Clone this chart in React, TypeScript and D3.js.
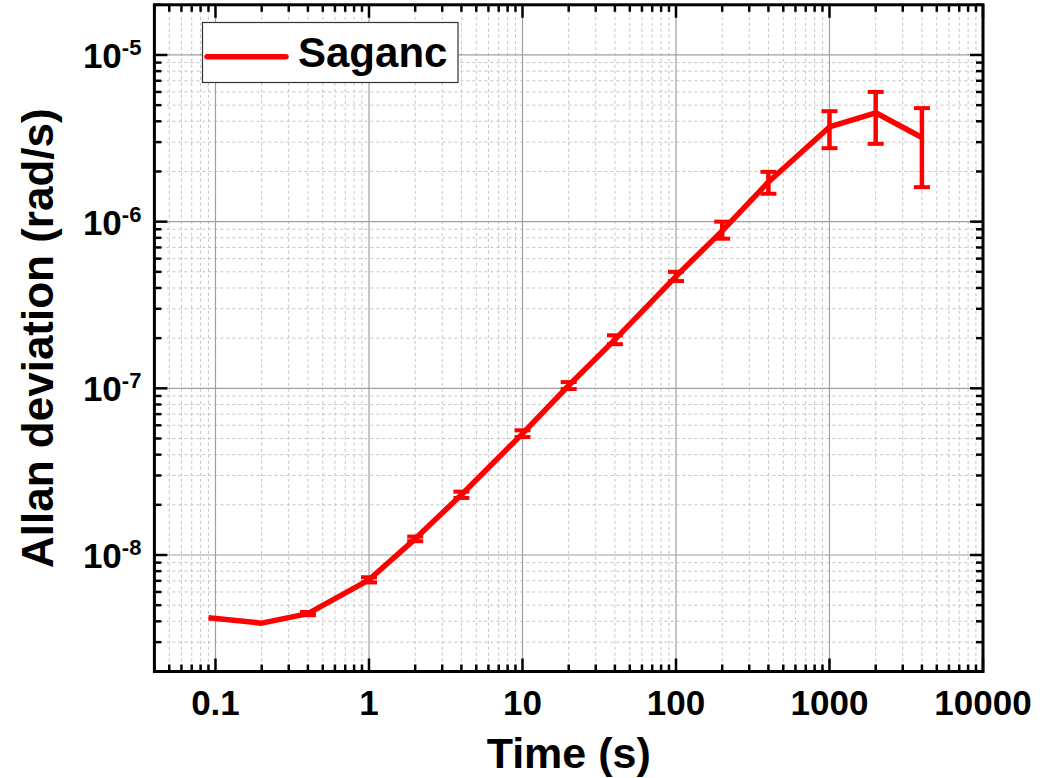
import React from "react";
import * as d3 from "d3";

// ---- data ----
const tau: number[] = [0.09, 0.2, 0.4, 1, 2, 4, 10, 20, 40, 100, 200, 400, 1000, 2000, 4000];
const adev: number[] = [4.2e-9, 3.9e-9, 4.45e-9, 7.1e-9, 1.25e-8, 2.3e-8, 5.35e-8, 1.04e-7, 1.96e-7, 4.7e-7, 8.8e-7, 1.73e-6, 3.7e-6, 4.5e-6, 3.2e-6];
const errUpper: number[] = [4.2e-9, 3.9e-9, 4.55e-9, 7.35e-9, 1.29e-8, 2.4e-8, 5.6e-8, 1.09e-7, 2.08e-7, 5.0e-7, 1.0e-6, 1.99e-6, 4.6e-6, 6.0e-6, 4.8e-6];
const errLower: number[] = [4.2e-9, 3.9e-9, 4.35e-9, 6.85e-9, 1.21e-8, 2.2e-8, 5.1e-8, 0.99e-7, 1.84e-7, 4.4e-7, 7.9e-7, 1.47e-6, 2.76e-6, 2.93e-6, 1.61e-6];
const xTickValues: number[] = [0.1, 1, 10, 100, 1000, 10000];
const xTickLabels: string[] = ["0.1", "1", "10", "100", "1000", "10000"];
const yTickValues: number[] = [1e-8, 1e-7, 1e-6, 1e-5];
const yTickExponents: string[] = ["-8", "-7", "-6", "-5"];
const seriesName = "Saganc";
const xTitle = "Time (s)";
const yTitle = "Allan deviation (rad/s)";

const W = 1055;
const H = 778;
const L = 154.4, R = 983, T = 4.8, B = 671.5;
const FONT = "'Liberation Sans', Arial, Helvetica, sans-serif";

export default function App() {
  const x = d3.scaleLog().domain([0.04, 10000]).range([L, R]);
  const y = d3.scaleLog().domain([2e-9, 2e-5]).range([B, T]);

  // minor values
  const xMinor: number[] = [];
  for (let e = -2; e <= 3; e++) {
    for (let m = 2; m <= 9; m++) {
      const v = m * Math.pow(10, e);
      if (v >= 0.04 - 1e-12 && v <= 10000) xMinor.push(v);
    }
  }
  const yMinor: number[] = [];
  for (let e = -9; e <= -5; e++) {
    for (let m = 2; m <= 9; m++) {
      const v = m * Math.pow(10, e);
      if (v >= 2e-9 * 0.999 && v <= 2e-5 * 1.001) yMinor.push(v);
    }
  }

  const line = d3
    .line<number>()
    .x((_, i) => x(tau[i]))
    .y((d) => y(d));

  const majorLen = 13;
  const minorLen = 7;
  const capW = 16;

  return (
    <svg
      width={W}
      height={H}
      style={{ position: "absolute", left: 0, top: 0, background: "#fff" }}
      fontFamily={FONT}
    >
      <rect x={0} y={0} width={W} height={H} fill="#fff" />
      {/* minor grid */}
      <g stroke="#c4c4c4" strokeWidth={1} strokeDasharray="3,3" fill="none">
        {xMinor.map((v, i) => (
          <line key={"gxm" + i} x1={x(v)} x2={x(v)} y1={T} y2={B} />
        ))}
        {yMinor.map((v, i) => (
          <line key={"gym" + i} x1={L} x2={R} y1={y(v)} y2={y(v)} />
        ))}
      </g>
      {/* major grid */}
      <g stroke="#a0a0a0" strokeWidth={1.2} fill="none">
        {xTickValues.map((v, i) => (
          <line key={"gx" + i} x1={x(v)} x2={x(v)} y1={T} y2={B} />
        ))}
        {yTickValues.map((v, i) => (
          <line key={"gy" + i} x1={L} x2={R} y1={y(v)} y2={y(v)} />
        ))}
      </g>
      {/* error bars */}
      <g stroke="#ff0000" fill="none">
        {tau.map((t, i) => {
          if (errUpper[i] <= errLower[i]) return null;
          const cx = x(t);
          const y1 = y(errUpper[i]);
          const y2 = y(errLower[i]);
          return (
            <g key={"eb" + i}>
              <line x1={cx} x2={cx} y1={y1} y2={y2} strokeWidth={4.5} />
              <line x1={cx - capW / 2} x2={cx + capW / 2} y1={y1} y2={y1} strokeWidth={4} />
              <line x1={cx - capW / 2} x2={cx + capW / 2} y1={y2} y2={y2} strokeWidth={4} />
            </g>
          );
        })}
      </g>
      {/* series line */}
      <path
        d={line(adev) || ""}
        fill="none"
        stroke="#ff0000"
        strokeWidth={5.5}
        strokeLinejoin="round"
      />
      {/* ticks */}
      <g stroke="#000" strokeWidth={2.5}>
        {xTickValues.map((v, i) => (
          <g key={"xt" + i}>
            <line x1={x(v)} x2={x(v)} y1={B} y2={B - majorLen} />
            <line x1={x(v)} x2={x(v)} y1={T} y2={T + majorLen} />
          </g>
        ))}
        {xMinor.map((v, i) => (
          <g key={"xtm" + i}>
            <line x1={x(v)} x2={x(v)} y1={B} y2={B - minorLen} />
            <line x1={x(v)} x2={x(v)} y1={T} y2={T + minorLen} />
          </g>
        ))}
        {yTickValues.map((v, i) => (
          <g key={"yt" + i}>
            <line x1={L} x2={L + majorLen} y1={y(v)} y2={y(v)} />
            <line x1={R} x2={R - majorLen} y1={y(v)} y2={y(v)} />
          </g>
        ))}
        {yMinor.map((v, i) => (
          <g key={"ytm" + i}>
            <line x1={L} x2={L + minorLen} y1={y(v)} y2={y(v)} />
            <line x1={R} x2={R - minorLen} y1={y(v)} y2={y(v)} />
          </g>
        ))}
      </g>
      {/* frame */}
      <rect x={L} y={T} width={R - L} height={B - T} fill="none" stroke="#000" strokeWidth={3} />
      {/* x tick labels */}
      <g fontWeight="bold" fontSize={35} fill="#000" textAnchor="middle">
        {xTickValues.map((v, i) => (
          <text key={"xl" + i} x={x(v)} y={B + 43}>
            {xTickLabels[i]}
          </text>
        ))}
      </g>
      {/* y tick labels */}
      <g fontWeight="bold" fill="#000">
        {yTickValues.map((v, i) => (
          <text key={"yl" + i} x={L - 13} y={y(v) + 13} textAnchor="end">
            <tspan fontSize={35}>10</tspan>
            <tspan fontSize={22} dy={-13}>
              {yTickExponents[i]}
            </tspan>
          </text>
        ))}
      </g>
      {/* axis titles */}
      <text x={(L + R) / 2} y={768} textAnchor="middle" fontWeight="bold" fontSize={43} fill="#000">
        {xTitle}
      </text>
      <text
        transform={`translate(53, ${(T + B) / 2}) rotate(-90)`}
        textAnchor="middle"
        fontWeight="bold"
        fontSize={44}
        fill="#000"
      >
        {yTitle}
      </text>
      {/* legend */}
      <g>
        <rect x={202.5} y={22.5} width={255.5} height={60} fill="#fff" stroke="#333" strokeWidth={1.2} />
        <line x1={207} x2={286} y1={56.7} y2={56.7} stroke="#ff0000" strokeWidth={5.5} strokeLinecap="round" />
        <text x={298} y={67} fontWeight="bold" fontSize={42} fill="#000">
          {seriesName}
        </text>
      </g>
    </svg>
  );
}
